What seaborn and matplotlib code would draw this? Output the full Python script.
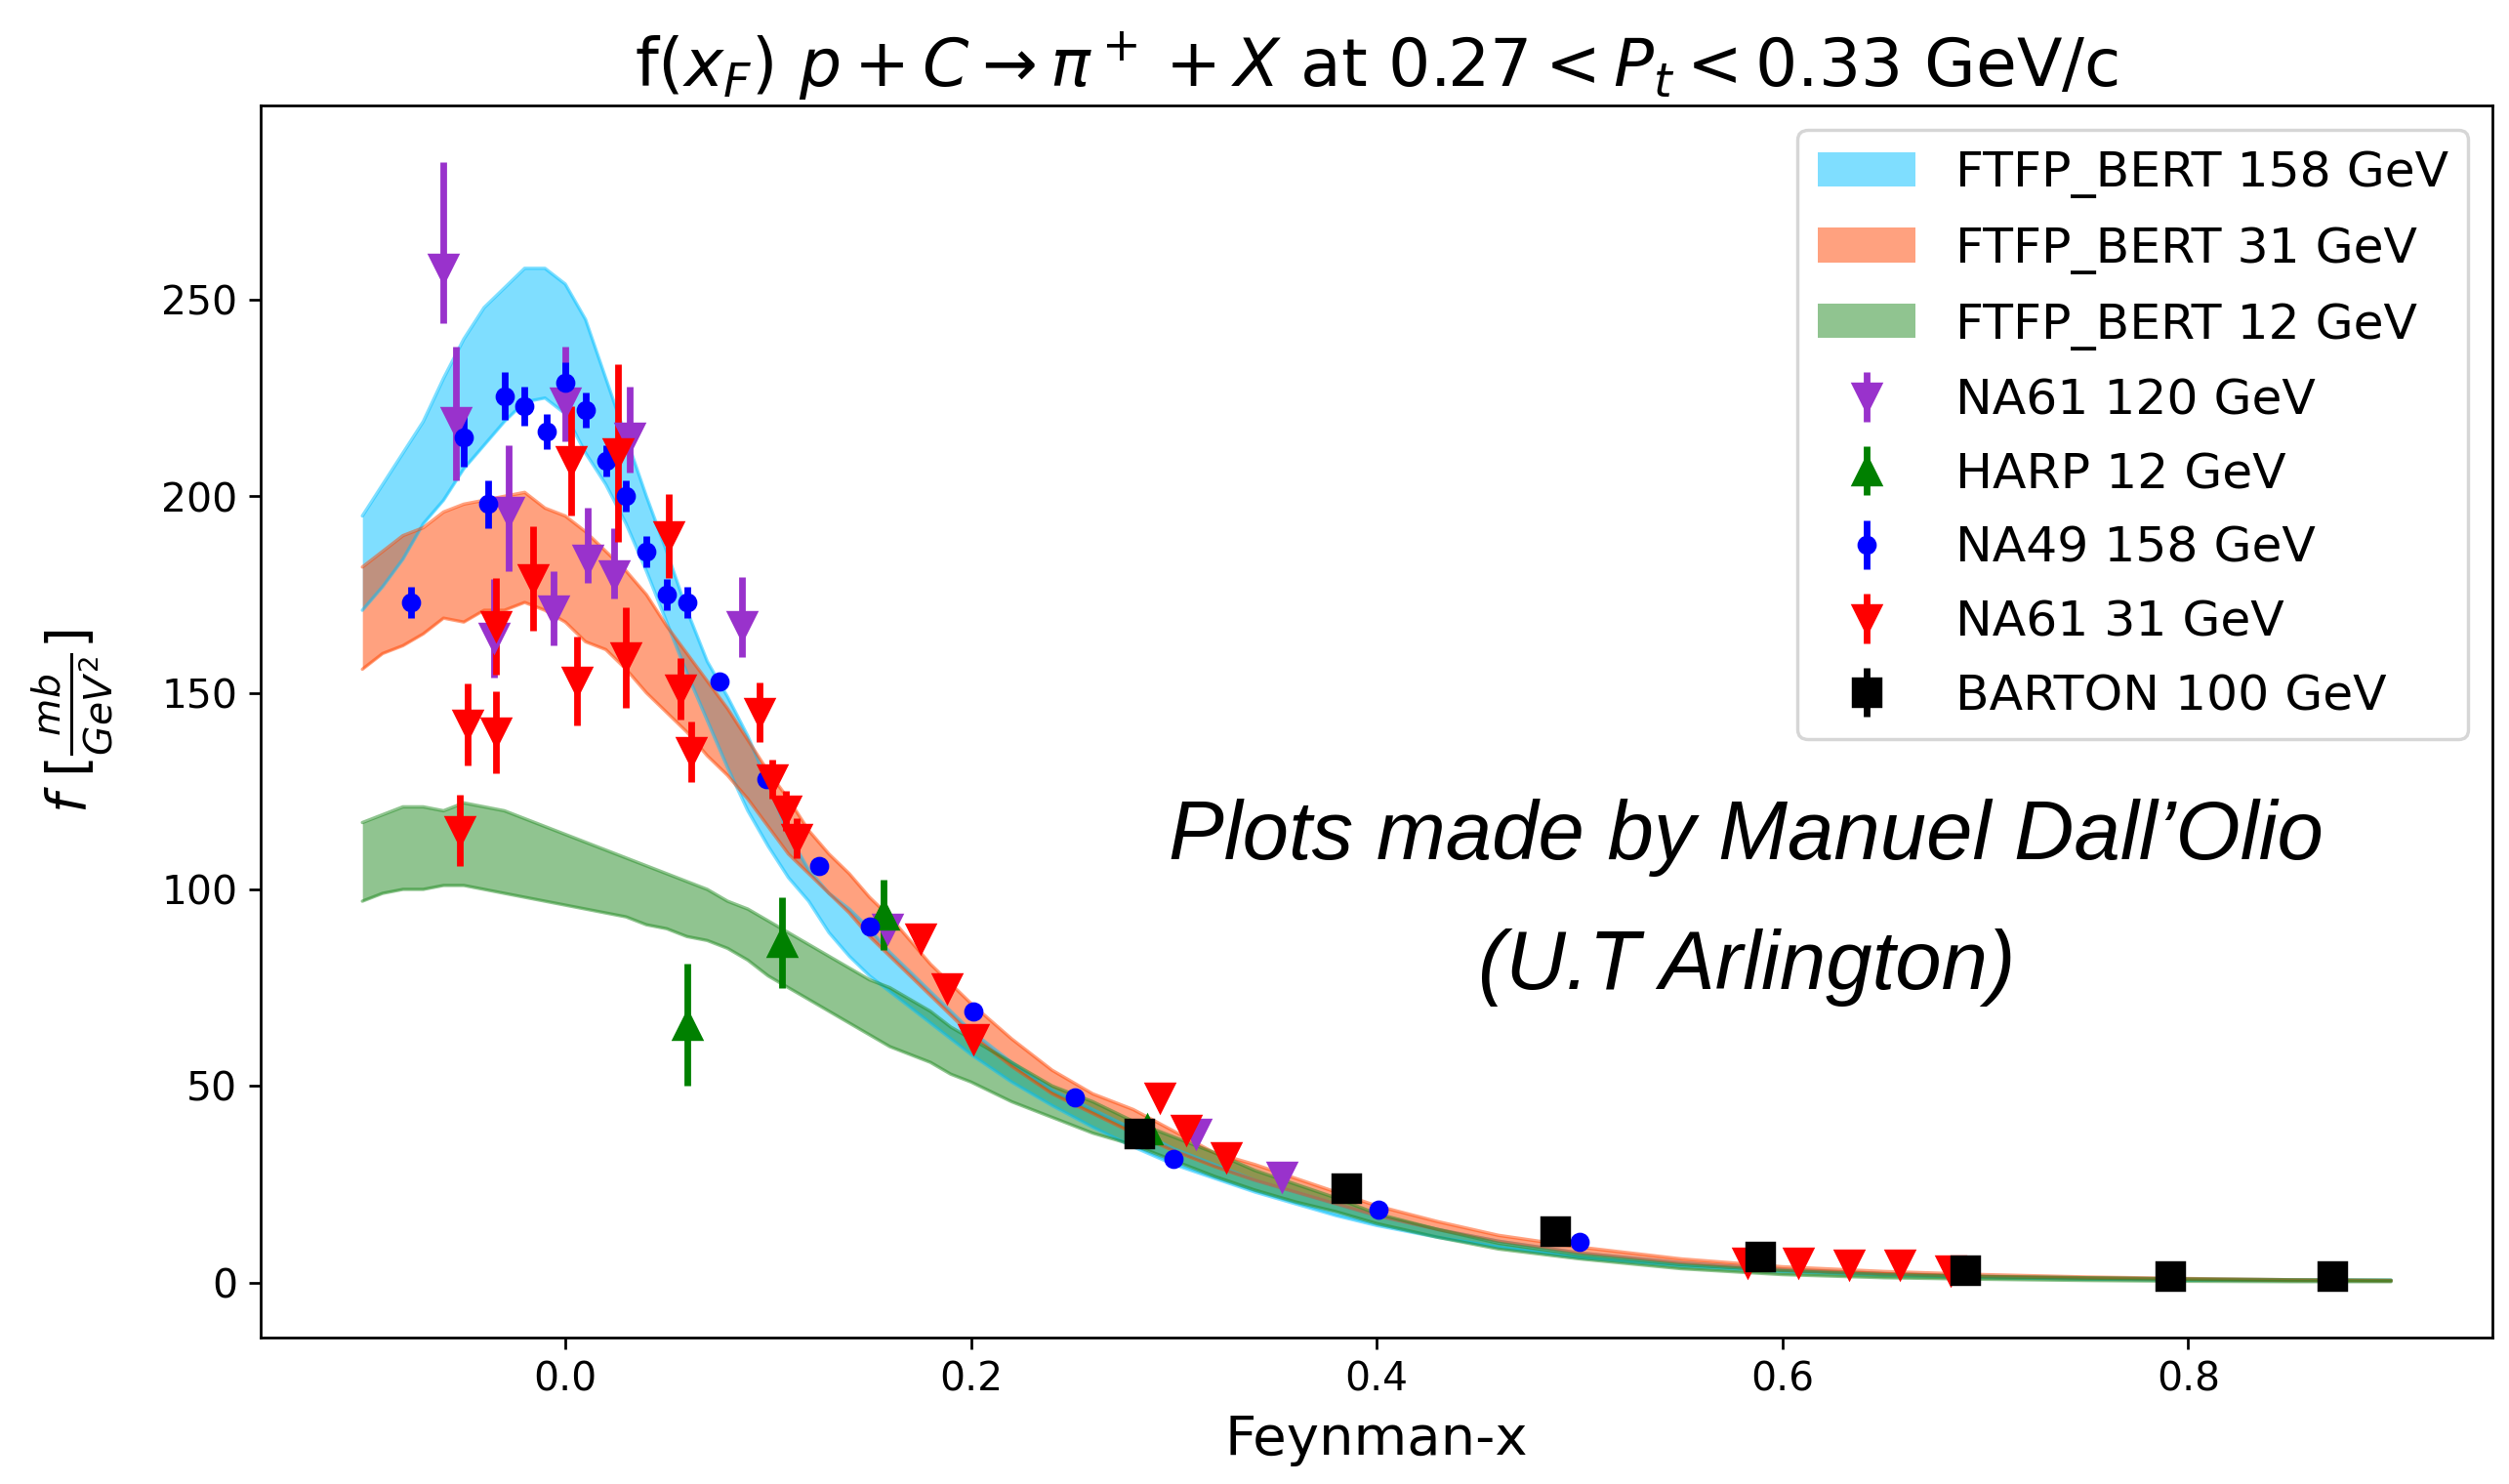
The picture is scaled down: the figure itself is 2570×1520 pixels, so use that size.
import matplotlib
matplotlib.use("Agg")
import matplotlib.pyplot as plt
import pandas as pd
import seaborn as sns

# ---------------------------------------------------------------------------
# FTFP_BERT simulation envelopes (lower / upper edge of each band)
# ---------------------------------------------------------------------------
x_sim = [-0.10, -0.09, -0.08, -0.07, -0.06, -0.05, -0.04, -0.03, -0.02, -0.01,
         0.00, 0.01, 0.02, 0.03, 0.04, 0.05, 0.06, 0.07, 0.08, 0.09,
         0.10, 0.11, 0.12, 0.13, 0.14, 0.15, 0.16, 0.17, 0.18, 0.19,
         0.20, 0.22, 0.24, 0.26, 0.28, 0.30, 0.32, 0.34, 0.36, 0.38,
         0.40, 0.43, 0.46, 0.50, 0.55, 0.60, 0.65, 0.70, 0.75, 0.80,
         0.85, 0.90]

ftfp158_hi = [195, 203, 211, 219, 230, 240, 248, 253, 258, 258,
              254, 245, 230, 215, 200, 186, 171, 158, 149, 139,
              127, 114, 105, 99, 95, 90, 84, 79, 74, 69,
              64, 56, 49, 44, 39, 34, 30, 26, 23, 20,
              17, 13.5, 10.5, 7.5, 5, 3.3, 2.3, 1.6, 1.2, 0.9,
              0.7, 0.6]
ftfp158_lo = [171, 177, 184, 193, 199, 207, 213, 219, 224, 225,
              221, 211, 203, 193, 181, 168, 155, 143, 131, 120,
              111, 103, 97, 89, 83, 78, 74, 70, 66, 62,
              58, 51, 45, 39.5, 34.5, 30, 26.5, 23, 20, 17,
              14.5, 11.5, 9, 6.3, 4.2, 2.8, 1.9, 1.3, 0.9, 0.6,
              0.5, 0.4]

ftfp31_hi = [182, 186, 190, 192, 196, 198, 199, 200, 201, 197,
             195, 191, 186, 181, 175, 167, 160, 153, 146, 138,
             130, 123, 115, 109, 104, 98, 93, 87, 81, 76,
             71, 62, 54, 48, 44, 38.5, 33, 30, 26.5, 23,
             19.5, 15.5, 12, 9, 6, 4, 2.8, 2.0, 1.4, 1.0,
             0.7, 0.5]
ftfp31_lo = [156, 160, 162, 165, 169, 168, 171, 171, 173, 171,
             168, 163, 161, 156, 150, 145, 140, 134, 129, 123,
             116, 109, 104, 99, 94, 88, 83, 78, 73, 68,
             63, 55, 48, 43, 38, 33.5, 29.5, 26, 23, 20,
             17, 13.5, 10.5, 7.5, 5, 3.2, 2.2, 1.5, 1.1, 0.8,
             0.5, 0.4]

ftfp12_hi = [117, 119, 121, 121, 120, 122, 121, 120, 118, 116,
             114, 112, 110, 108, 106, 104, 102, 100, 97, 95,
             92, 89, 86, 83, 80, 77, 75, 72, 69, 65,
             62, 56, 50, 46, 41, 37, 33, 28.5, 25, 21.5,
             17.5, 13.5, 10, 7, 4.5, 3, 2, 1.5, 1.2, 0.9,
             0.7, 0.6]
ftfp12_lo = [97, 99, 100, 100, 101, 101, 100, 99, 98, 97,
             96, 95, 94, 93, 91, 90, 88, 87, 85, 82,
             78, 75, 72, 69, 66, 63, 60, 58, 56, 53,
             51, 46, 42, 38, 35, 31, 27, 23.5, 20.5, 18,
             15, 11.5, 8.5, 6, 3.5, 2, 1.2, 0.8, 0.5, 0.3,
             0.2, 0.2]

# ---------------------------------------------------------------------------
# Measurements
# ---------------------------------------------------------------------------
na61_120_x = [-0.060, -0.054, -0.035, -0.028, -0.006, 0.000, 0.011, 0.024,
              0.032, 0.087, 0.159, 0.311, 0.353]
na61_120_y = [258, 219, 164, 196, 171, 224, 184, 180, 215, 167, 90, 38, 27]
na61_120_err_lo = [14, 15, 10, 15, 9, 10, 6, 6, 9, 8, 2, 1, 1]
na61_120_err_hi = [27, 19, 15, 17, 10, 14, 13, 12, 13, 12.5, 2, 1, 1]

harp_x = [0.060, 0.107, 0.157, 0.287]
harp_y = [65.5, 86.5, 93.5, 39]
harp_err = [15.5, 11.5, 9, 1.5]

na49_x = [-0.076, -0.050, -0.038, -0.030, -0.020, -0.009, 0.000, 0.010,
          0.020, 0.030, 0.040, 0.050, 0.060, 0.076, 0.099, 0.125, 0.150,
          0.201, 0.251, 0.300, 0.401, 0.500]
na49_y = [173, 215, 198, 225.5, 223, 216.5, 229, 222, 209, 200, 186, 175,
          173, 153, 128, 106, 90.5, 69, 47, 31.5, 18.5, 10.4]
na49_err = [4, 7.5, 6, 6, 5, 4.5, 5, 4.5, 4, 4, 4, 4, 4, 1.5, 1.5, 1, 1,
            1, 0.5, 0.5, 0.3, 0.2]

na61_31_x = [-0.052, -0.048, -0.034, -0.034, -0.016, 0.003, 0.006, 0.026,
             0.030, 0.051, 0.057, 0.062, 0.096, 0.102, 0.109, 0.114, 0.175,
             0.188, 0.201, 0.293, 0.306, 0.326, 0.583, 0.608, 0.633, 0.658,
             0.683]
na61_31_y = [115, 142, 140, 167, 179, 209, 153, 211, 159, 190, 151, 135,
             145, 128, 120, 113, 87.5, 75, 62, 47, 39, 32, 5, 5, 4.6, 4.5,
             3.2]
na61_31_err = [9, 10.5, 10.5, 12.3, 13.3, 14, 11.2, 22.7, 12.8, 10.7, 7.8,
               7.6, 7.6, 5, 5, 5, 2, 2, 2, 1, 1, 1, 0.5, 0.5, 0.5, 0.5, 0.5]

barton_x = [0.283, 0.385, 0.488, 0.589, 0.690, 0.791, 0.871]
barton_y = [38, 24, 13, 6.5, 3.2, 1.6, 1.6]
barton_err = [1.5, 1, 0.8, 0.5, 0.3, 0.2, 0.2]

# ---------------------------------------------------------------------------
sns.set_style("ticks", rc={
    "axes.edgecolor": "black",
    "xtick.color": "black",
    "ytick.color": "black",
    "text.color": "black",
    "axes.labelcolor": "black",
    "axes.linewidth": 0.9,
    "xtick.major.width": 0.9,
    "ytick.major.width": 0.9,
    "xtick.major.size": 5,
    "ytick.major.size": 5,
})
plt.rcParams["font.family"] = ["DejaVu Sans"]
plt.rcParams["mathtext.fontset"] = "dejavusans"
plt.rcParams["font.size"] = 10

fig, ax = plt.subplots(figsize=(10.49, 6.205), dpi=245)
fig.subplots_adjust(left=0.104, right=0.9934, bottom=0.0987, top=0.929)

bands = [
    (ftfp158_lo, ftfp158_hi, "deepskyblue", 0.5, "FTFP_BERT 158 GeV"),
    (ftfp31_lo, ftfp31_hi, "orangered", 0.5, "FTFP_BERT 31 GeV"),
    (ftfp12_lo, ftfp12_hi, "forestgreen", 0.5, "FTFP_BERT 12 GeV"),
]
for lo, hi, color, alpha, label in bands:
    ax.fill_between(x_sim, lo, hi, color=color, alpha=alpha, lw=0, label=label)
    edges = pd.DataFrame({"x": x_sim, "lo": lo, "hi": hi})
    for col in ("lo", "hi"):
        sns.lineplot(data=edges, x="x", y=col, color=color, alpha=alpha,
                     lw=1.0, estimator=None, legend=False, ax=ax)

ax.errorbar(na61_120_x, na61_120_y, yerr=[na61_120_err_lo, na61_120_err_hi],
            fmt="v", color="darkorchid", ms=8.5, elinewidth=2,
            label="NA61 120 GeV")
ax.errorbar(harp_x, harp_y, yerr=harp_err, fmt="^", color="green", ms=8.5,
            elinewidth=2, label="HARP 12 GeV")
ax.errorbar(na49_x, na49_y, yerr=na49_err, fmt="o", color="blue", ms=4.8,
            elinewidth=2, label="NA49 158 GeV")
ax.errorbar(na61_31_x, na61_31_y, yerr=na61_31_err, fmt="v", color="red",
            ms=8.5, elinewidth=2, label="NA61 31 GeV")
ax.errorbar(barton_x, barton_y, yerr=barton_err, fmt="s", color="black",
            ms=8.5, elinewidth=2, label="BARTON 100 GeV")

ax.set_xlim(-0.15, 0.95)
ax.set_ylim(-14, 299.5)
ax.set_xticks([0.0, 0.2, 0.4, 0.6, 0.8])
ax.set_yticks([0, 50, 100, 150, 200, 250])
ax.tick_params(labelsize=12)

ax.set_title(r"f($x_F$) $p + C \rightarrow \pi^+ + X$ at $0.27 < P_t < 0.33$ GeV/c",
             fontsize=20)
ax.set_xlabel("Feynman-x", fontsize=16.5)
ax.set_ylabel(r"$f\ [\frac{mb}{GeV^2}]$", fontsize=16.5, labelpad=14)

ax.legend(loc="upper right", fontsize=14.8, labelspacing=0.55)

credit = dict(ha="center", va="baseline", fontsize=25, style="italic",
              family=["Liberation Sans", "DejaVu Sans"])
fig.text(0.696, 0.421, "Plots made by Manuel Dall\u2019Olio", **credit)
fig.text(0.696, 0.3336, "(U.T Arlington)", **credit)

fig.savefig("out.png", dpi=245)
